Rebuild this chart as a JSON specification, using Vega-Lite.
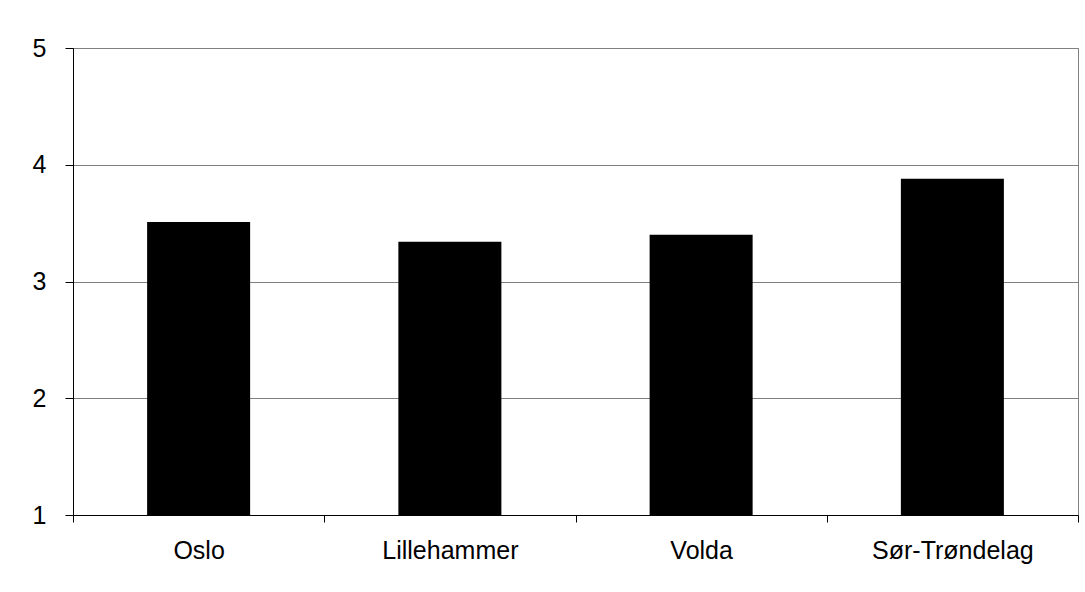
{
  "$schema": "https://vega.github.io/schema/vega-lite/v6.json",
  "width": 1005,
  "height": 467,
  "autosize": "none",
  "padding": {"left": 73, "top": 48, "right": 7, "bottom": 77},
  "background": "white",
  "data": {
    "values": [
      {"sted": "Oslo", "verdi": 3.51},
      {"sted": "Lillehammer", "verdi": 3.34},
      {"sted": "Volda", "verdi": 3.40},
      {"sted": "Sør-Trøndelag", "verdi": 3.88}
    ]
  },
  "mark": {"type": "bar", "color": "black", "stroke": null, "width": {"band": 0.41}},
  "encoding": {
    "x": {
      "field": "sted",
      "type": "nominal",
      "sort": null,
      "scale": {"paddingInner": 0, "paddingOuter": 0},
      "axis": {
        "title": null,
        "labelAngle": 0,
        "tickBand": "extent",
        "grid": false,
        "domainColor": "black",
        "domainWidth": 1,
        "tickColor": "black",
        "tickSize": 7,
        "labelPadding": 16,
        "labelFont": "Liberation Sans",
        "labelFontSize": 25,
        "labelColor": "black",
        "labelBaseline": "top"
      }
    },
    "y": {
      "field": "verdi",
      "type": "quantitative",
      "scale": {"domain": [1, 5], "zero": false, "nice": false},
      "axis": {
        "title": null,
        "values": [1, 2, 3, 4, 5],
        "grid": true,
        "gridColor": "#808080",
        "gridOpacity": 1,
        "gridWidth": 1,
        "domainColor": "black",
        "tickColor": "black",
        "tickSize": 8,
        "labelPadding": 19,
        "labelFont": "Liberation Sans",
        "labelFontSize": 25,
        "labelColor": "black",
        "labelBaseline": "middle"
      }
    },
    "y2": {"datum": 1}
  },
  "config": {
    "view": {"stroke": "#808080", "strokeWidth": 1}
  }
}
